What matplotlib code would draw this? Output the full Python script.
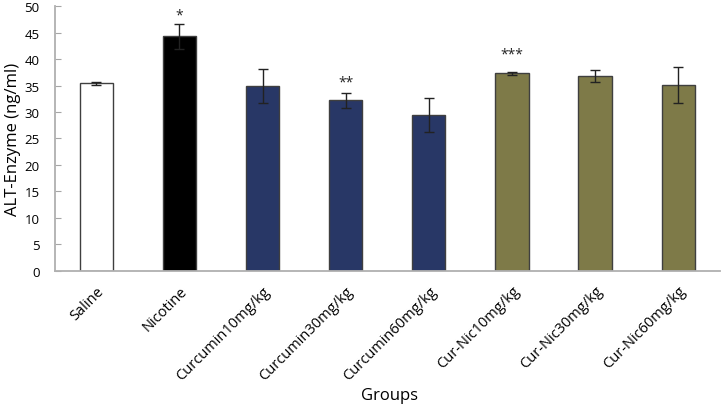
import matplotlib
matplotlib.use("Agg")
import matplotlib.pyplot as plt

# data
groups = ["Saline", "Nicotine", "Curcumin10mg/kg", "Curcumin30mg/kg", "Curcumin60mg/kg",
          "Cur-Nic10mg/kg", "Cur-Nic30mg/kg", "Cur-Nic60mg/kg"]
alt_mean = [35.4, 44.3, 34.9, 32.2, 29.4, 37.3, 36.8, 35.2]
alt_err = [0.3, 2.4, 3.2, 1.4, 3.2, 0.3, 1.2, 3.4]
stars = ["", "*", "", "**", "", "***", "", ""]
star_y = [None, 48.4, None, 35.6, None, 40.9, None, None]

bar_colors = ["#FFFFFF", "#000000", "#283766", "#283766", "#283766",
              "#7E7A48", "#7E7A48", "#7E7A48"]

plt.rcParams["font.family"] = ["Open Sans", "DejaVu Sans"]

fig = plt.figure(figsize=(7.22, 4.06), dpi=100)
ax = fig.add_axes([0.0758, 0.331, 0.9212, 0.651])

x = range(len(groups))
ax.bar(x, alt_mean, width=0.4, color=bar_colors, edgecolor="#3f3f3f", linewidth=1.0,
       yerr=alt_err, error_kw=dict(ecolor="#222222", elinewidth=1.0, capsize=3.5, capthick=1.0))

for i, s in enumerate(stars):
    if s:
        ax.text(i, star_y[i], s, ha="center", va="center", fontsize=10, color="#222222")

ax.set_xlim(-0.5, len(groups) - 0.5)
ax.set_ylim(0, 50)
ax.set_yticks(range(0, 51, 5))
ax.set_xticks(list(x))
ax.set_xticklabels(groups, rotation=45, ha="right", rotation_mode="anchor", fontsize=10.5)
ax.tick_params(axis="y", direction="in", length=4, color="#a6a6a6", labelsize=9.5, pad=11)
ax.tick_params(axis="x", length=0, pad=9)

for side in ["top", "right"]:
    ax.spines[side].set_visible(False)
for side in ["left", "bottom"]:
    ax.spines[side].set_color("#b0b0b0")
    ax.spines[side].set_linewidth(1.3)

ax.set_ylabel("ALT-Enzyme (ng/ml)", fontsize=12, va="center")
ax.yaxis.set_label_coords(-0.062, 0.5)
ax.set_xlabel("Groups", fontsize=12, va="center")
ax.xaxis.set_label_coords(0.504, -0.47)

fig.savefig("out.png", dpi=100)
